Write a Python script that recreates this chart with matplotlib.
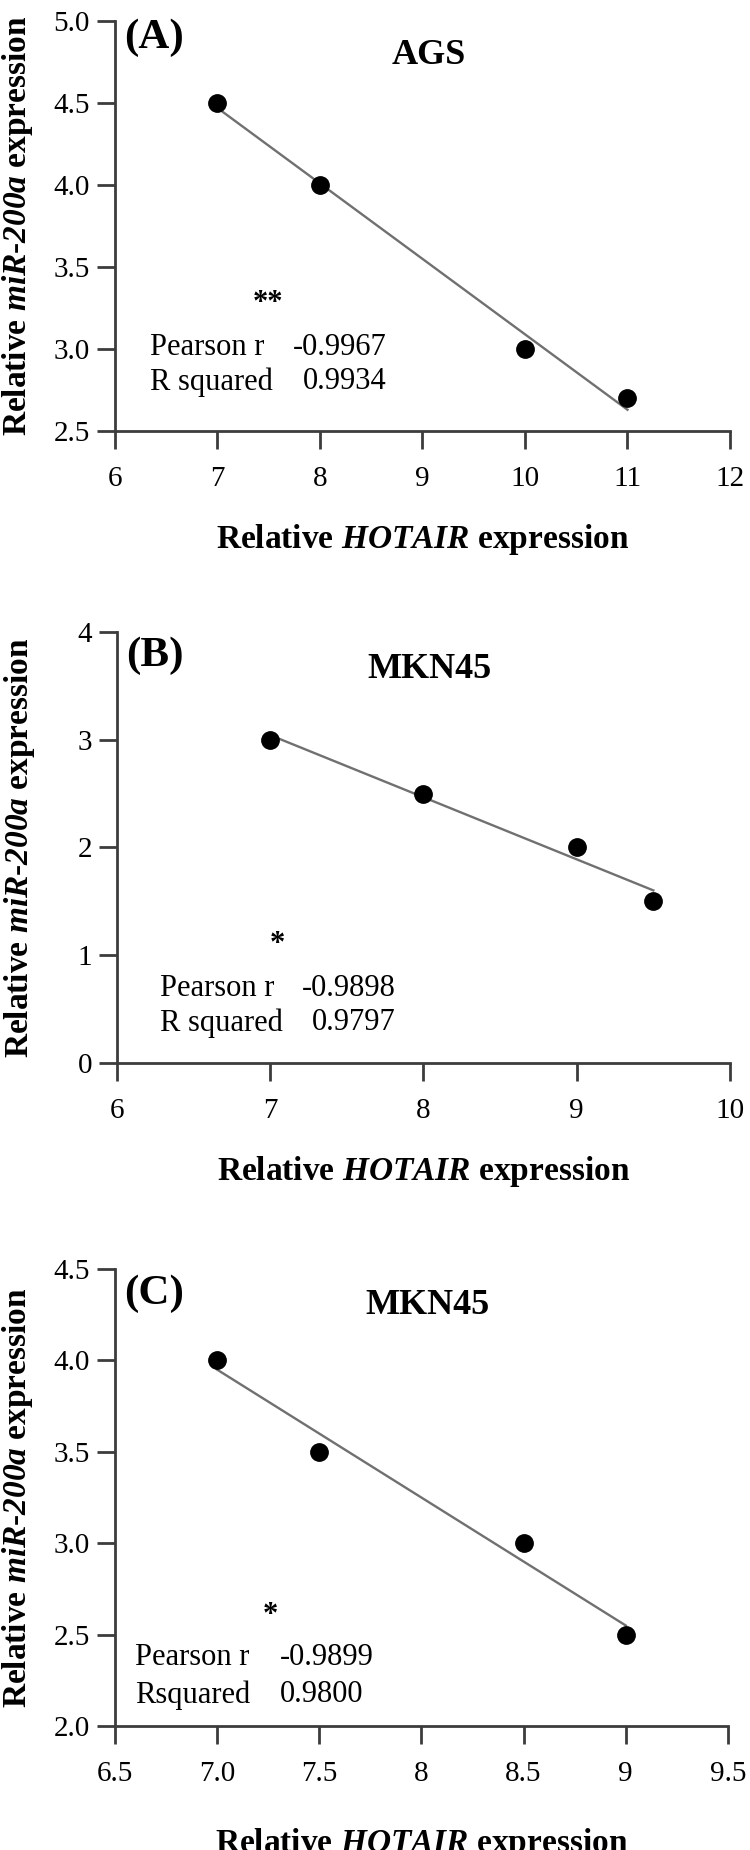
import numpy as np
import matplotlib
matplotlib.use('Agg')
import matplotlib.pyplot as plt

plt.rcParams['font.family'] = 'Liberation Serif'
plt.rcParams['mathtext.fontset'] = 'custom'
plt.rcParams['mathtext.it'] = 'Liberation Serif:italic:bold'
plt.rcParams['mathtext.rm'] = 'Liberation Serif:italic:bold'
plt.rcParams['mathtext.bf'] = 'Liberation Serif:bold'

# panel data
panels = ['(A)', '(B)', '(C)']
cells = ['AGS', 'MKN45', 'MKN45']

x_a = [7, 8, 10, 11]
y_a = [4.5, 4.0, 3.0, 2.7]
x_b = [7, 8, 9, 9.5]
y_b = [3.0, 2.5, 2.0, 1.5]
x_c = [7, 7.5, 8.5, 9]
y_c = [4.0, 3.5, 3.0, 2.5]

pearson = ['-0.9967', '-0.9898', '-0.9899']
rsq = ['0.9934', '0.9797', '0.9800']
rsq_names = ['R squared', 'R squared', 'Rsquared']
stars = ['**', '*', '*']

xticks_a = [6, 7, 8, 9, 10, 11, 12]
yticks_a = [2.5, 3.0, 3.5, 4.0, 4.5, 5.0]
xticks_b = [6, 7, 8, 9, 10]
yticks_b = [0, 1, 2, 3, 4]
xticks_c = [6.5, 7.0, 7.5, 8, 8.5, 9, 9.5]
yticks_c = [2.0, 2.5, 3.0, 3.5, 4.0, 4.5]
xlabels_a = ['6', '7', '8', '9', '10', '11', '12']
xlabels_b = ['6', '7', '8', '9', '10']
xlabels_c = ['6.5', '7.0', '7.5', '8', '8.5', '9', '9.5']
ylabels_a = ['2.5', '3.0', '3.5', '4.0', '4.5', '5.0']
ylabels_b = ['0', '1', '2', '3', '4']
ylabels_c = ['2.0', '2.5', '3.0', '3.5', '4.0', '4.5']

fig = plt.figure(figsize=(7.5, 18.5), dpi=100)
rects = [[0.1533, 0.767, 0.82, 0.2216],
         [0.156, 0.4254, 0.8173, 0.233],
         [0.1533, 0.067, 0.8173, 0.247]]
xs = [x_a, x_b, x_c]
ys = [y_a, y_b, y_c]
xt = [xticks_a, xticks_b, xticks_c]
yt = [yticks_a, yticks_b, yticks_c]
xl = [xlabels_a, xlabels_b, xlabels_c]
yl = [ylabels_a, ylabels_b, ylabels_c]
# text placement (axes fraction)
txt_left = [0.057, 0.070, 0.033]
val_x = [0.442, 0.455, 0.269]
val_ha = ['right', 'right', 'left']
row1 = [0.205, 0.174, 0.149]
row2 = [0.12, 0.093, 0.068]
star_x = [0.249, 0.261, 0.254]
star_y = [0.31, 0.276, 0.243]
title_y = [0.915, 0.912, 0.92]
lab_y = [0.96, 0.945, 0.945]
xlab_pad = [22, 22, 28]

spine_col = '#3c3c3c'
for i in range(3):
    ax = fig.add_axes(rects[i])
    x = np.array(xs[i], dtype=float)
    y = np.array(ys[i], dtype=float)
    k, b = np.polyfit(x, y, 1)
    xx = np.array([x.min(), x.max()])
    ax.plot(xx, k * xx + b, color='#707070', lw=1.7, zorder=2)
    ax.plot(x, y, 'o', color='black', ms=12.5, zorder=3)

    ax.set_xlim(xt[i][0], xt[i][-1])
    ax.set_ylim(yt[i][0], yt[i][-1])
    ax.set_xticks(xt[i])
    ax.set_xticklabels(xl[i])
    ax.set_yticks(yt[i])
    ax.set_yticklabels(yl[i])
    for s in ['top', 'right']:
        ax.spines[s].set_visible(False)
    for s in ['left', 'bottom']:
        ax.spines[s].set_linewidth(2.0)
        ax.spines[s].set_color(spine_col)
    ax.tick_params(direction='out', length=13, width=2.0, color=spine_col,
                   labelsize=21)
    ax.tick_params(axis='x', pad=12)
    ax.tick_params(axis='y', pad=5)
    ax.set_xlabel(r'Relative $\mathit{HOTAIR}$ expression', fontsize=24,
                  fontweight='bold', labelpad=xlab_pad[i])
    ax.set_ylabel(r'Relative $\mathit{miR}$-$\mathit{200a}$ expression',
                  fontsize=24, fontweight='bold')
    ax.yaxis.set_label_coords(-0.13, 0.5)

    ax.text(0.015, lab_y[i], panels[i], transform=ax.transAxes, fontsize=31,
            fontweight='bold', ha='left', va='center')
    ax.text(0.51, title_y[i], cells[i], transform=ax.transAxes, fontsize=26,
            fontweight='bold', ha='center', va='center')
    ax.text(star_x[i], star_y[i], stars[i], transform=ax.transAxes,
            fontsize=22, fontweight='bold', ha='center', va='center')
    ax.text(txt_left[i], row1[i], 'Pearson r', transform=ax.transAxes,
            fontsize=22, ha='left', va='center')
    ax.text(txt_left[i], row2[i], rsq_names[i], transform=ax.transAxes,
            fontsize=22, ha='left', va='center')
    ax.text(val_x[i], row1[i], pearson[i], transform=ax.transAxes,
            fontsize=22, ha=val_ha[i], va='center')
    ax.text(val_x[i], row2[i], rsq[i], transform=ax.transAxes,
            fontsize=22, ha=val_ha[i], va='center')

fig.savefig('out.png', dpi=100)
